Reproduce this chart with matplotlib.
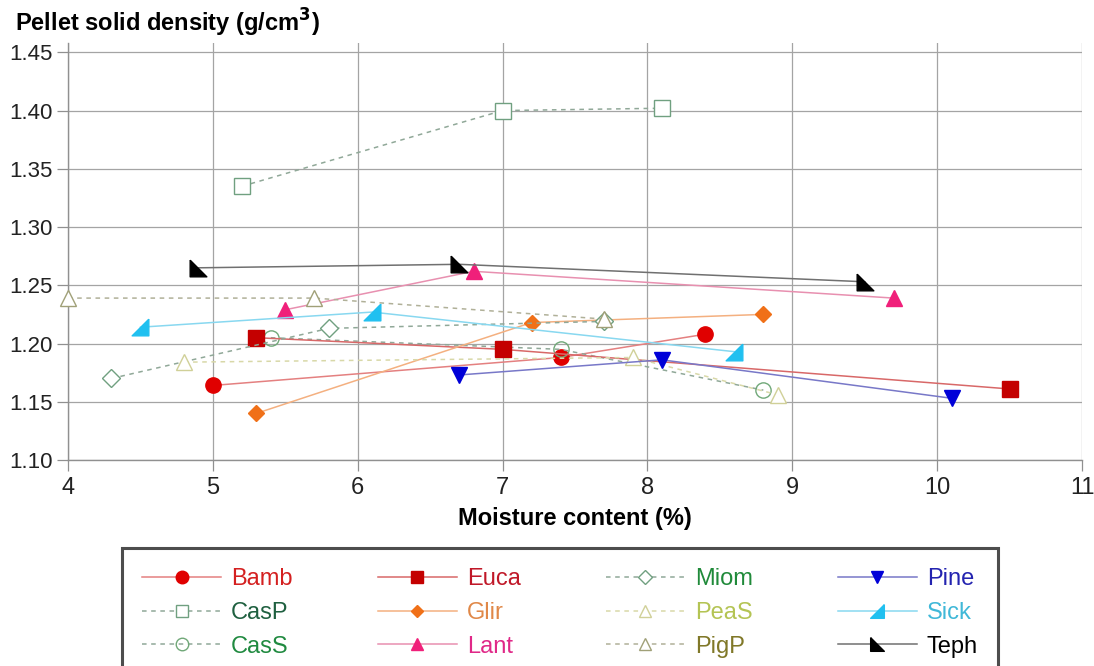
import matplotlib
matplotlib.use("Agg")
import matplotlib.pyplot as plt

plt.rcParams['font.family'] = ['Liberation Sans', 'DejaVu Sans']

# ---- data ----
names = ["Bamb", "CasP", "CasS", "Euca", "Glir", "Lant",
         "Miom", "PeaS", "PigP", "Pine", "Sick", "Teph"]
bamb_x = [5.0, 7.4, 8.4];   bamb_y = [1.164, 1.188, 1.208]
casp_x = [5.2, 7.0, 8.1];   casp_y = [1.335, 1.400, 1.402]
cass_x = [5.4, 7.4, 8.8];   cass_y = [1.205, 1.195, 1.160]
euca_x = [5.3, 7.0, 10.5];  euca_y = [1.205, 1.195, 1.161]
glir_x = [5.3, 7.2, 8.8];   glir_y = [1.140, 1.218, 1.225]
lant_x = [5.5, 6.8, 9.7];   lant_y = [1.229, 1.262, 1.239]
miom_x = [4.3, 5.8, 7.7];   miom_y = [1.170, 1.213, 1.219]
peas_x = [4.8, 7.9, 8.9];   peas_y = [1.184, 1.188, 1.156]
pigp_x = [4.0, 5.7, 7.7];   pigp_y = [1.239, 1.239, 1.221]
pine_x = [6.7, 8.1, 10.1];  pine_y = [1.173, 1.186, 1.153]
sick_x = [4.5, 6.1, 8.6];   sick_y = [1.214, 1.227, 1.193]
teph_x = [4.9, 6.7, 9.5];   teph_y = [1.265, 1.268, 1.253]

xs = [bamb_x, casp_x, cass_x, euca_x, glir_x, lant_x, miom_x, peas_x, pigp_x, pine_x, sick_x, teph_x]
ys = [bamb_y, casp_y, cass_y, euca_y, glir_y, lant_y, miom_y, peas_y, pigp_y, pine_y, sick_y, teph_y]

x_ticks = [4, 5, 6, 7, 8, 9, 10, 11]
y_ticks = [1.10, 1.15, 1.20, 1.25, 1.30, 1.35, 1.40, 1.45]

# ---- styles ----
tri_sick = [(1, 1), (1, -1), (-1, -1), (1, 1)]
tri_teph = [(-1, 1), (-1, -1), (1, -1), (-1, 1)]
styles = {
    "Bamb": dict(ls='-', lc='#e48080', m='o', mfc='#e00000', mec='#e00000', ms=11, tc='#d42020'),
    "CasP": dict(ls='--', lc='#90a898', m='s', mfc='white', mec='#70a080', ms=11, tc='#1f6040'),
    "CasS": dict(ls='--', lc='#90a898', m='o', mfc='none', mec='#70a878', ms=11, tc='#208a40'),
    "Euca": dict(ls='-', lc='#d86868', m='s', mfc='#c40000', mec='#c40000', ms=11, tc='#c01828'),
    "Glir": dict(ls='-', lc='#f4b080', m='D', mfc='#f07018', mec='#f07018', ms=8, tc='#e08848'),
    "Lant": dict(ls='-', lc='#e890b0', m='^', mfc='#f0207a', mec='#f0207a', ms=11, tc='#e02888'),
    "Miom": dict(ls='--', lc='#90a898', m='D', mfc='white', mec='#70a080', ms=9, tc='#208a3a'),
    "PeaS": dict(ls='--', lc='#d8d8a8', m='^', mfc='white', mec='#d0d098', ms=11, tc='#b4c454'),
    "PigP": dict(ls='--', lc='#b0b098', m='^', mfc='white', mec='#a0a078', ms=11, tc='#807828'),
    "Pine": dict(ls='-', lc='#7878c8', m='v', mfc='#0000d8', mec='#0000d8', ms=11, tc='#2424b0'),
    "Sick": dict(ls='-', lc='#88d8f0', m=tri_sick, mfc='#20c0f0', mec='#20c0f0', ms=12, tc='#40b8d8'),
    "Teph": dict(ls='-', lc='#707070', m=tri_teph, mfc='black', mec='black', ms=12, tc='black'),
}

fig = plt.figure(figsize=(10.94, 6.66), dpi=100)
ax = fig.add_axes([68/1094, 1-460/666, (1082-68)/1094, (460-43)/666])

for name, x, y in zip(names, xs, ys):
    s = styles[name]
    ax.plot(x, y, linestyle=s['ls'], color=s['lc'], lw=1.1,
            dashes=(3, 3) if s['ls'] == '--' else (None, None),
            marker=s['m'], ms=s['ms'], mfc=s['mfc'], mec=s['mec'], mew=1.0,
            label=name, zorder=3, clip_on=False)

ax.set_xlim(4, 11)
ax.set_ylim(1.10, 1.458)
ax.set_xticks(x_ticks)
ax.set_xticklabels([str(v) for v in x_ticks])
ax.set_yticks(y_ticks)
ax.set_yticklabels([f"{v:.2f}" for v in y_ticks])
ax.grid(True, color='#a4a4a4', lw=0.9)
ax.set_axisbelow(True)
for sp in ['top', 'right']:
    ax.spines[sp].set_visible(False)
for sp in ['left', 'bottom']:
    ax.spines[sp].set_color('#909090')
    ax.spines[sp].set_linewidth(1.0)
ax.tick_params(axis='both', direction='out', length=8, width=0.9, color='#909090',
               labelsize=16, labelcolor='#222222', pad=3)
ax.tick_params(axis='x', labelsize=17, pad=4)

ax.set_xlabel("Moisture content (%)", fontsize=17, fontweight='bold', labelpad=6)
fig.text(15/1094, 1-32/666, "Pellet solid density (g/cm$^\\mathbf{3}$)", fontsize=17,
         fontweight='bold', ha='left', va='baseline')

leg = fig.legend(loc='upper left', bbox_to_anchor=(122/1094, 0, 876/1094, 1-548/666),
                 mode='expand', ncol=4, fontsize=17, frameon=True, fancybox=False,
                 handlelength=3.35, handletextpad=0.42, labelspacing=0.5,
                 borderpad=0.85, borderaxespad=0, markerscale=0.82)
leg.get_frame().set_edgecolor('#202020')
leg.get_frame().set_linewidth(2.2)
for t, name in zip(leg.get_texts(), names):
    t.set_color(styles[name]['tc'])

fig.savefig("out.png", dpi=100)
